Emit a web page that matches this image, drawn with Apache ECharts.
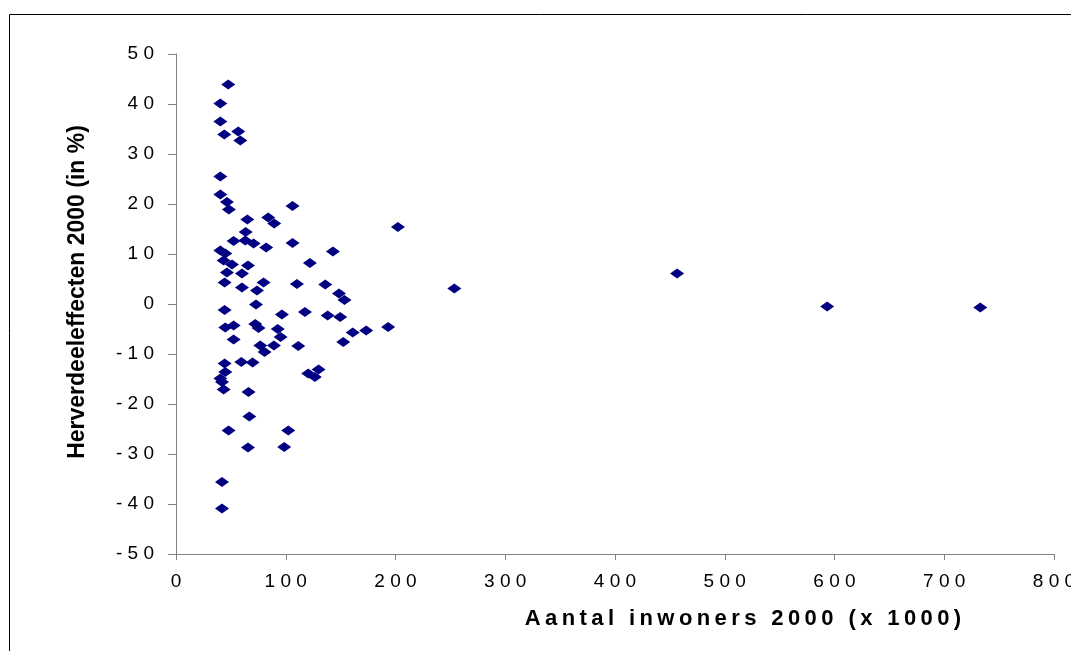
<!DOCTYPE html>
<html>
<head>
<meta charset="utf-8">
<script src="https://cdn.jsdelivr.net/npm/echarts@6/dist/echarts.min.js"></script>
<style>
html,body{margin:0;padding:0;background:#fff;}
#chart{width:1071px;height:651px;}
</style>
</head>
<body>
<div id="chart"></div>
<script>
// Aantal inwoners 2000 (x 1000)
var inwoners = [
  47.6, 40.4, 40.4, 44.0, 56.7, 58.6, 40.4, 40.4, 46.4, 48.2,
  106.2, 65.0, 84.0, 89.5, 63.5, 52.5, 63.1, 70.7, 82.2, 106.2,
  202.2, 143.0, 122.0, 40.4, 44.9, 43.4, 51.0, 65.6, 60.1, 46.4,
  44.3, 60.1, 79.8, 73.8, 110.2, 136.0, 148.5, 153.5, 253.6, 456.6,
  72.9, 44.3, 96.5, 117.5, 138.2, 149.6, 593.3, 732.8, 44.9, 52.5,
  72.2, 75.2, 92.7, 95.3, 52.5, 76.8, 80.7, 89.2, 111.4, 161.0,
  173.3, 193.3, 152.4, 44.3, 59.5, 69.8, 44.9, 40.4, 41.9, 43.4,
  120.5, 126.5, 129.9, 66.1, 66.8, 47.9, 102.3, 65.6, 98.6, 41.9,
  41.9
];
// Herverdeeleffecten 2000 (in %)
var effecten = [
  43.9, 40.1, 36.5, 33.9, 34.5, 32.7, 25.5, 21.9, 20.4, 18.9,
  19.6, 16.9, 17.3, 16.1, 14.4, 12.6, 12.7, 12.1, 11.3, 12.2,
  15.4, 10.5, 8.2, 10.7, 10.1, 8.7, 7.9, 7.7, 6.1, 6.3,
  4.3, 3.3, 4.3, 2.7, 4.0, 3.9, 2.1, 0.8, 3.1, 6.1,
  -0.1, -1.2, -2.1, -1.6, -2.3, -2.6, -0.5, -0.7, -4.7, -4.3,
  -4.0, -4.8, -5.0, -6.6, -7.1, -8.3, -9.6, -8.3, -8.4, -5.7,
  -5.3, -4.6, -7.6, -11.9, -11.6, -11.7, -13.6, -14.9, -15.6, -17.1,
  -13.9, -14.6, -13.1, -17.6, -22.5, -25.3, -25.3, -28.7, -28.6, -35.6,
  -40.9
];
var xTicks = {min: 0, max: 800, interval: 100};
var yTicks = {min: -50, max: 50, interval: 10};
var xTitle = 'Aantal inwoners 2000 (x 1000)';
var yTitle = 'Herverdeeleffecten 2000 (in %)';

var points = inwoners.map(function (x, i) { return [x, effecten[i]]; });
function spaced(v) { return String(v).split('').join(' '); }
var FONT = '"Liberation Sans", Arial, sans-serif';

var chart = echarts.init(document.getElementById('chart'), null, {renderer: 'canvas'});
chart.setOption({
  animation: false,
  backgroundColor: '#ffffff',
  grid: {left: 176, right: 17, top: 54, bottom: 97, containLabel: false, outerBoundsMode: 'none'},
  xAxis: {
    type: 'value', min: xTicks.min, max: xTicks.max, interval: xTicks.interval,
    axisLine: {show: true, onZero: false, lineStyle: {color: '#808080', width: 1}},
    axisTick: {show: true, length: 6, lineStyle: {color: '#808080'}},
    splitLine: {show: false},
    axisLabel: {margin: 18, color: '#000', fontSize: 19, fontFamily: FONT, formatter: spaced}
  },
  yAxis: {
    type: 'value', min: yTicks.min, max: yTicks.max, interval: yTicks.interval,
    axisLine: {show: true, onZero: false, lineStyle: {color: '#808080', width: 1}},
    axisTick: {show: true, length: 8, lineStyle: {color: '#808080'}},
    splitLine: {show: false},
    axisLabel: {margin: 22, color: '#000', fontSize: 19, fontFamily: FONT, formatter: spaced}
  },
  series: [{
    type: 'scatter',
    data: points,
    symbol: 'diamond',
    symbolSize: [14, 10],
    itemStyle: {color: '#000080', opacity: 1}
  }],
  graphic: [
    {
      type: 'rect', silent: true, z: -1,
      shape: {x: 9.5, y: 14.5, width: 1300, height: 900},
      style: {fill: 'none', stroke: '#000', lineWidth: 1}
    },
    {
      type: 'text', x: 78, y: 292, rotation: Math.PI / 2,
      style: {
        text: yTitle, fontSize: 23, fontWeight: 'bold', fontFamily: FONT, fill: '#000',
        textAlign: 'center', textVerticalAlign: 'middle', align: 'center', verticalAlign: 'middle'
      }
    },
    {
      type: 'text', x: 743, y: 619,
      style: {
        text: xTitle.split('').join('\u2009'), fontSize: 22, fontWeight: 'bold', fontFamily: FONT, fill: '#000',
        textAlign: 'center', textVerticalAlign: 'middle', align: 'center', verticalAlign: 'middle'
      }
    }
  ]
});
</script>
</body>
</html>
